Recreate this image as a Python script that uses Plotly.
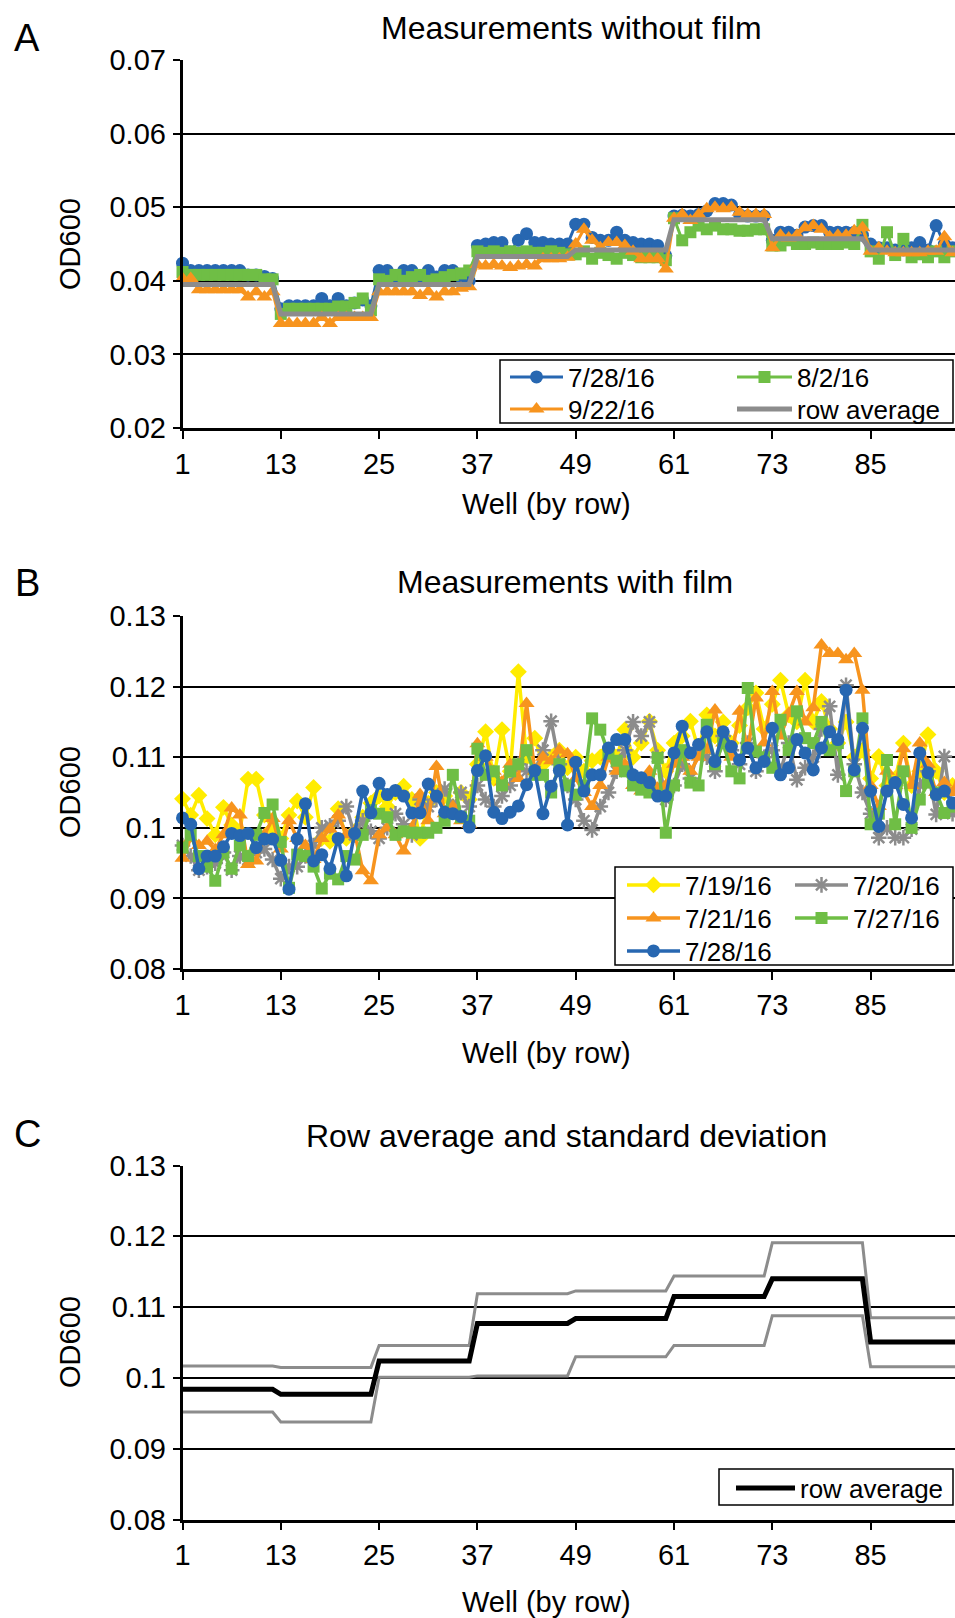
import plotly.graph_objects as go

W, H = 955, 1618

wells = list(range(1, 97))
x_tick_vals = [1, 13, 25, 37, 49, 61, 73, 85]

# --- panel A: measurements without film ---
a_0728 = [0.0424, 0.0414, 0.0414, 0.0414, 0.0414, 0.0414, 0.0414, 0.0414, 0.0408, 0.0408, 0.0406, 0.0403,
          0.0362, 0.0366, 0.0366, 0.0366, 0.0366, 0.0376, 0.0366, 0.0376, 0.0366, 0.0370, 0.0374, 0.0366,
          0.0414, 0.0414, 0.0405, 0.0414, 0.0414, 0.0405, 0.0414, 0.0405, 0.0414, 0.0414, 0.0405, 0.0400,
          0.0448, 0.0450, 0.0452, 0.0452, 0.0439, 0.0455, 0.0464, 0.0452, 0.0452, 0.0450, 0.0450, 0.0450,
          0.0477, 0.0477, 0.0459, 0.0455, 0.0455, 0.0466, 0.0455, 0.0452, 0.0450, 0.0450, 0.0448, 0.0434,
          0.0488, 0.0489, 0.0488, 0.0490, 0.0495, 0.0505, 0.0505, 0.0503, 0.0490, 0.0488, 0.0488, 0.0488,
          0.0455, 0.0466, 0.0466, 0.0462, 0.0473, 0.0475, 0.0475, 0.0466, 0.0466, 0.0466, 0.0466, 0.0462,
          0.0450, 0.0445, 0.0445, 0.0442, 0.0442, 0.0445, 0.0452, 0.0442, 0.0475, 0.0450, 0.0445, 0.0445]
a_0802 = [0.0412, 0.0408, 0.0408, 0.0408, 0.0408, 0.0408, 0.0408, 0.0408, 0.0408, 0.0408, 0.0402, 0.0402,
          0.0355, 0.0362, 0.0362, 0.0362, 0.0362, 0.0362, 0.0362, 0.0365, 0.0365, 0.0370, 0.0376, 0.0360,
          0.0402, 0.0400, 0.0408, 0.0400, 0.0405, 0.0408, 0.0400, 0.0402, 0.0405, 0.0408, 0.0410, 0.0414,
          0.0440, 0.0438, 0.0440, 0.0438, 0.0440, 0.0438, 0.0440, 0.0438, 0.0438, 0.0440, 0.0438, 0.0436,
          0.0436, 0.0440, 0.0430, 0.0438, 0.0435, 0.0430, 0.0438, 0.0435, 0.0432, 0.0432, 0.0432, 0.0428,
          0.0485, 0.0455, 0.0466, 0.0475, 0.0470, 0.0475, 0.0470, 0.0470, 0.0468, 0.0468, 0.0470, 0.0470,
          0.0448, 0.0448, 0.0455, 0.0450, 0.0450, 0.0452, 0.0450, 0.0450, 0.0450, 0.0452, 0.0450, 0.0476,
          0.0440, 0.0430, 0.0466, 0.0435, 0.0457, 0.0432, 0.0436, 0.0432, 0.0440, 0.0432, 0.0440, 0.0436]
a_0922 = [0.0403, 0.0403, 0.0388, 0.0388, 0.0388, 0.0388, 0.0388, 0.0388, 0.0378, 0.0385, 0.0378, 0.0385,
          0.0342, 0.0342, 0.0342, 0.0342, 0.0342, 0.0350, 0.0342, 0.0350, 0.0350, 0.0350, 0.0350, 0.0350,
          0.0385, 0.0385, 0.0385, 0.0385, 0.0385, 0.0380, 0.0385, 0.0378, 0.0385, 0.0385, 0.0390, 0.0392,
          0.0422, 0.0420, 0.0422, 0.0420, 0.0418, 0.0420, 0.0422, 0.0420, 0.0430, 0.0430, 0.0430, 0.0432,
          0.0450, 0.0470, 0.0455, 0.0445, 0.0452, 0.0452, 0.0448, 0.0440, 0.0430, 0.0430, 0.0430, 0.0416,
          0.0485, 0.0490, 0.0482, 0.0490, 0.0498, 0.0500, 0.0498, 0.0500, 0.0493, 0.0490, 0.0490, 0.0490,
          0.0445, 0.0462, 0.0458, 0.0462, 0.0472, 0.0475, 0.0470, 0.0460, 0.0462, 0.0462, 0.0468, 0.0472,
          0.0440, 0.0445, 0.0440, 0.0438, 0.0438, 0.0438, 0.0438, 0.0440, 0.0440, 0.0460, 0.0438, 0.0438]
a_row_avg = [0.0395, 0.0355, 0.0395, 0.0433, 0.0442, 0.0483, 0.0457, 0.0442]  # one value per row of 12

# --- panel B: measurements with film ---
b_0719 = [0.1041, 0.1018, 0.1046, 0.1013, 0.0990, 0.1029, 0.1004, 0.0995, 0.1069, 0.1069, 0.1018, 0.0999,
          0.0985, 0.1018, 0.1038, 0.1015, 0.1057, 0.0985, 0.0981, 0.1027, 0.0985, 0.0995, 0.1015, 0.1035,
          0.1045, 0.1030, 0.1050, 0.1059, 0.1040, 0.0985, 0.1035, 0.1050, 0.1045, 0.1030, 0.1050, 0.1040,
          0.1090, 0.1136, 0.1070, 0.1139, 0.1080, 0.1221, 0.1100, 0.1127, 0.1090, 0.1100, 0.1110, 0.1085,
          0.1100, 0.1080, 0.1095, 0.1100, 0.1110, 0.1100, 0.1139, 0.1100, 0.1120, 0.1151, 0.1110, 0.1080,
          0.1120, 0.1130, 0.1151, 0.1110, 0.1160, 0.1130, 0.1150, 0.1120, 0.1145, 0.1170, 0.1191, 0.1140,
          0.1175, 0.1209, 0.1160, 0.1150, 0.1209, 0.1150, 0.1179, 0.1140, 0.1120, 0.1150, 0.1100, 0.1110,
          0.1070, 0.1101, 0.1060, 0.1070, 0.1120, 0.1060, 0.1080, 0.1132, 0.1080, 0.1050, 0.1060, 0.1050]
b_0720 = [0.0975, 0.0960, 0.0940, 0.0945, 0.0950, 0.0965, 0.0940, 0.0960, 0.0955, 0.0965, 0.0970, 0.0955,
          0.0928, 0.0945, 0.0945, 0.0960, 0.0975, 0.1000, 0.1003, 0.1010, 0.1030, 0.0990, 0.1010, 0.0995,
          0.0985, 0.1000, 0.1020, 0.1005, 0.0990, 0.1040, 0.1030, 0.1040, 0.1055, 0.1030, 0.1050, 0.1030,
          0.1060, 0.1040, 0.1030, 0.1045, 0.1060, 0.1090, 0.1080, 0.1080, 0.1110, 0.1151, 0.1090, 0.1060,
          0.1040, 0.1010, 0.0997, 0.1030, 0.1050, 0.1080, 0.1110, 0.1150, 0.1130, 0.1150, 0.1100, 0.1040,
          0.1060, 0.1090, 0.1070, 0.1110, 0.1100, 0.1080, 0.1130, 0.1110, 0.1090, 0.1120, 0.1080, 0.1100,
          0.1110, 0.1080, 0.1120, 0.1068, 0.1085, 0.1100, 0.1140, 0.1172, 0.1075, 0.1202, 0.1090, 0.1050,
          0.1020, 0.0986, 0.1000, 0.0986, 0.0986, 0.0998, 0.1060, 0.1080, 0.1019, 0.1101, 0.1020, 0.1040]
b_0721 = [0.0957, 0.0985, 0.0975, 0.0981, 0.0969, 0.0990, 0.1028, 0.1018, 0.0948, 0.0953, 0.0990, 0.1013,
          0.0970, 0.1010, 0.0985, 0.0975, 0.0955, 0.0985, 0.0998, 0.1018, 0.0990, 0.0995, 0.0939, 0.0925,
          0.0990, 0.1000, 0.0990, 0.0967, 0.1000, 0.1047, 0.1010, 0.1087, 0.1020, 0.1030, 0.1010, 0.1005,
          0.1119, 0.1100, 0.1080, 0.1065, 0.1090, 0.1070, 0.1176, 0.1080, 0.1100, 0.1095, 0.1110, 0.1105,
          0.1070, 0.1050, 0.1030, 0.1060, 0.1100, 0.1080, 0.1090, 0.1060, 0.1052, 0.1080, 0.1056, 0.1060,
          0.1090, 0.1100, 0.1080, 0.1100, 0.1110, 0.1167, 0.1120, 0.1100, 0.1165, 0.1110, 0.1184, 0.1120,
          0.1193, 0.1130, 0.1162, 0.1193, 0.1150, 0.1170, 0.1259, 0.1247, 0.1247, 0.1238, 0.1247, 0.1195,
          0.1060, 0.1030, 0.1080, 0.1060, 0.1112, 0.1060, 0.1120, 0.1090, 0.1050, 0.1064, 0.1050, 0.1087]
b_0727 = [0.0972, 0.0990, 0.0960, 0.0945, 0.0925, 0.0965, 0.0942, 0.0975, 0.0960, 0.0990, 0.1021, 0.1033,
          0.0980, 0.0915, 0.0962, 0.0960, 0.0945, 0.0914, 0.0935, 0.0927, 0.0960, 0.0955, 0.0990, 0.1025,
          0.1020, 0.1015, 0.0990, 0.0995, 0.0993, 0.0993, 0.0993, 0.1000, 0.1010, 0.1075, 0.1015, 0.1010,
          0.1112, 0.1075, 0.1080, 0.1060, 0.1080, 0.1090, 0.1110, 0.1075, 0.1075, 0.1050, 0.1090, 0.1060,
          0.1047, 0.1060, 0.1155, 0.1139, 0.1105, 0.1095, 0.1080, 0.1060, 0.1054, 0.1050, 0.1099, 0.0993,
          0.1060, 0.1110, 0.1064, 0.1060, 0.1146, 0.1090, 0.1120, 0.1080, 0.1070, 0.1198, 0.1108, 0.1100,
          0.1085, 0.1153, 0.1110, 0.1165, 0.1127, 0.1120, 0.1150, 0.1110, 0.1120, 0.1052, 0.1080, 0.1155,
          0.1005, 0.1020, 0.1096, 0.1005, 0.1080, 0.1000, 0.1040, 0.1064, 0.1050, 0.1021, 0.1030, 0.1020]
b_0728 = [0.1014, 0.1005, 0.0942, 0.0960, 0.0960, 0.0973, 0.0992, 0.0989, 0.0992, 0.0972, 0.0984, 0.0984,
          0.0954, 0.0913, 0.0984, 0.1034, 0.0953, 0.0962, 0.0942, 0.0985, 0.0932, 0.0992, 0.1052, 0.1021,
          0.1063, 0.1047, 0.1053, 0.1045, 0.1021, 0.1021, 0.1062, 0.1045, 0.1022, 0.1020, 0.1016, 0.1001,
          0.1081, 0.1102, 0.1022, 0.1013, 0.1022, 0.1031, 0.1061, 0.1081, 0.1020, 0.1059, 0.1081, 0.1004,
          0.1093, 0.1052, 0.1075, 0.1075, 0.1113, 0.1125, 0.1125, 0.1075, 0.1071, 0.1064, 0.1045, 0.1045,
          0.1106, 0.1144, 0.1106, 0.1118, 0.1136, 0.1094, 0.1136, 0.1115, 0.1096, 0.1113, 0.1085, 0.1094,
          0.1141, 0.1075, 0.1085, 0.1125, 0.1106, 0.1082, 0.1113, 0.1136, 0.1125, 0.1195, 0.1082, 0.1141,
          0.1052, 0.1002, 0.1052, 0.1064, 0.1033, 0.1014, 0.1106, 0.1078, 0.1047, 0.1052, 0.1035, 0.1042]

# --- panel C: row average and +/- standard deviation (one value per row of 12 wells) ---
c_upper = [0.1017, 0.1015, 0.1046, 0.1119, 0.1123, 0.1144, 0.1191, 0.1085]
c_avg = [0.0984, 0.0977, 0.1024, 0.1077, 0.1084, 0.1115, 0.1140, 0.1051]
c_lower = [0.0952, 0.0938, 0.1001, 0.1003, 0.1030, 0.1046, 0.1088, 0.1016]


def per_well(row_vals):
    return [v for v in row_vals for _ in range(12)]


def fx(px):
    return px / W


def fy(py):
    return 1 - py / H


FONT = 'Arial, Liberation Sans, sans-serif'
BLUE, GREEN, ORANGE = '#2767B1', '#6FBE45', '#F7941E'
GRAY, YELLOW = '#8C8C8C', '#FFEC00'

fig = go.Figure()


def series(x, y, name, color, symbol, size, xa, ya, legend, lw=3, mline=0):
    fig.add_trace(go.Scatter(
        x=x, y=y, name=name, mode='lines+markers', xaxis=xa, yaxis=ya, legend=legend,
        line=dict(color=color, width=lw), cliponaxis=False,
        marker=dict(symbol=symbol, size=size, color=color, line=dict(color=color, width=mline))))


# panel A
series(wells, a_0728, '7/28/16', BLUE, 'circle', 13, 'x', 'y', 'legend')
series(wells, a_0802, '8/2/16', GREEN, 'square', 12, 'x', 'y', 'legend2')
series(wells, a_0922, '9/22/16', ORANGE, 'triangle-up', 14, 'x', 'y', 'legend3')
fig.add_trace(go.Scatter(x=wells, y=per_well(a_row_avg), name='row average', mode='lines',
                         xaxis='x', yaxis='y', legend='legend4',
                         line=dict(color=GRAY, width=5)))

# panel B
series(wells, b_0719, '7/19/16', YELLOW, 'diamond', 13, 'x2', 'y2', 'legend5', lw=3.5)
series(wells, b_0720, '7/20/16', GRAY, 'asterisk-open', 13, 'x2', 'y2', 'legend6', lw=3.5, mline=2.5)
series(wells, b_0721, '7/21/16', ORANGE, 'triangle-up', 14, 'x2', 'y2', 'legend7', lw=3.5)
series(wells, b_0727, '7/27/16', GREEN, 'square', 12, 'x2', 'y2', 'legend8', lw=3.5)
series(wells, b_0728, '7/28/16', BLUE, 'circle', 13, 'x2', 'y2', 'legend9', lw=3.5)

# panel C
fig.add_trace(go.Scatter(x=wells, y=per_well(c_upper), mode='lines', showlegend=False,
                         xaxis='x3', yaxis='y3', line=dict(color=GRAY, width=3)))
fig.add_trace(go.Scatter(x=wells, y=per_well(c_lower), mode='lines', showlegend=False,
                         xaxis='x3', yaxis='y3', line=dict(color=GRAY, width=3)))
fig.add_trace(go.Scatter(x=wells, y=per_well(c_avg), name='row average', mode='lines',
                         xaxis='x3', yaxis='y3', legend='legend10',
                         line=dict(color='black', width=5)))

# axes
panels = [  # (top px, bottom px, y range, y ticks)
    (60, 428, [0.02, 0.07], [0.02, 0.03, 0.04, 0.05, 0.06, 0.07], ['0.02', '0.03', '0.04', '0.05', '0.06', '0.07']),
    (616, 969, [0.08, 0.13], [0.08, 0.09, 0.10, 0.11, 0.12, 0.13], ['0.08', '0.09', '0.1', '0.11', '0.12', '0.13']),
    (1165.5, 1519.7, [0.08, 0.13], [0.08, 0.09, 0.10, 0.11, 0.12, 0.13], ['0.08', '0.09', '0.1', '0.11', '0.12', '0.13']),
]
X0 = 182.5
for i, (top, bot, yr, yt, ytt) in enumerate(panels, start=1):
    sfx = '' if i == 1 else str(i)
    fig.update_layout(**{
        'xaxis' + sfx: dict(domain=[fx(X0), 1], range=[1, 95.3], anchor='y' + sfx,
                            tickvals=x_tick_vals, ticks='outside', ticklen=8, tickwidth=2,
                            tickcolor='black', showline=True, linecolor='black', linewidth=2.5,
                            showgrid=False, zeroline=False, automargin=False,
                            tickfont=dict(size=29, color='black', family=FONT)),
        'yaxis' + sfx: dict(domain=[fy(bot), fy(top)], range=yr, anchor='x' + sfx,
                            tickvals=yt, ticktext=ytt, ticks='outside', ticklen=7, tickwidth=2,
                            tickcolor='black', showline=True, linecolor='black', linewidth=2.5,
                            showgrid=True, gridcolor='black', gridwidth=2, zeroline=False,
                            automargin=False, ticklabelstandoff=1,
                            tickfont=dict(size=29, color='black', family=FONT)),
    })

annotations = []


def text(px, py, s, size, angle=0):
    annotations.append(dict(x=fx(px), y=fy(py), xref='paper', yref='paper', text=s,
                            showarrow=False, xanchor='center', yanchor='middle', textangle=angle,
                            font=dict(size=size, color='black', family=FONT)))


text(27, 38, 'A', 38)
text(27, 583, 'B', 38)
text(27, 1134, 'C', 38)
text(571, 28, 'Measurements without film', 32)
text(565, 582, 'Measurements with film', 32)
text(566, 1136, 'Row average and standard deviation', 32)
for yc in (504, 1053, 1602):
    text(546, yc, 'Well (by row)', 29)
for yc in (244, 792, 1342):
    text(70, yc, 'OD600', 29, angle=-90)

# legend boxes
boxes = [(500, 360, 953, 423), (615, 867, 953, 965), (719, 1469, 953, 1505)]
shapes = [dict(type='rect', xref='paper', yref='paper', x0=fx(a), x1=fx(c), y0=fy(d), y1=fy(b),
               line=dict(color='black', width=1.5), fillcolor='white', layer='above')
          for a, b, c, d in boxes]

# one legend per entry: (left px of line sample, row centre px, sample width)
legend_pos = {
    'legend': (510, 377, 53), 'legend2': (737, 377, 55),
    'legend3': (510, 409, 53), 'legend4': (737, 409, 55),
    'legend5': (627, 885, 53), 'legend6': (795, 885, 53),
    'legend7': (627, 918, 53), 'legend8': (795, 918, 53),
    'legend9': (627, 951, 53),
    'legend10': (736, 1488, 59),
}
for key, (lx, ly, iw) in legend_pos.items():
    fig.update_layout(**{key: dict(x=fx(lx - 5), y=fy(ly), xanchor='left', yanchor='middle',
                                   bgcolor='rgba(0,0,0,0)', borderwidth=0, itemwidth=iw,
                                   font=dict(size=26, color='black', family=FONT))})

fig.update_layout(width=W, height=H, margin=dict(l=0, r=0, t=0, b=0),
                  template='none', paper_bgcolor='white', plot_bgcolor='white',
                  annotations=annotations, shapes=shapes, font=dict(family=FONT))

# page body margin would push the 955 px figure off the window
fig.write_html("out.html", config={'displayModeBar': False},
               post_script="document.body.style.margin='0';document.body.style.overflow='hidden';")
